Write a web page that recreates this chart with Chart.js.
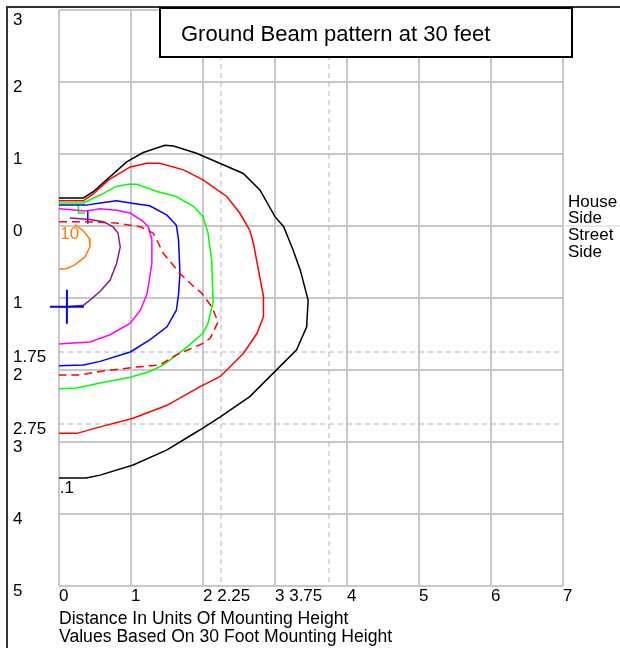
<!DOCTYPE html>
<html lang="en">
<head>
<meta charset="UTF-8">
<title>Ground Beam pattern at 30 feet</title>
<style>
  body { margin: 0; background: #fff; }
  #wrap { width: 620px; height: 648px; }
</style>
</head>
<body>
<div id="wrap"><canvas id="beam" width="620" height="648"></canvas></div>
<script src="https://cdn.jsdelivr.net/npm/chart.js"></script>
<script>
// axis ticks, street side is below 0 but printed without sign
const xTicks = [0, 1, 2, 3, 4, 5, 6, 7];
const xTickLabels = ['0', '1', '2 2.25', '3 3.75', '4', '5', '6', '7'];
const yTicks = [3, 2, 1, 0, -1, -1.75, -2, -2.75, -3, -4, -5];
const yTickLabels = ['3', '2', '1', '0', '1', '1.75', '2', '2.75', '3', '4', '5'];
const refX = [2.25, 3.75];
const refY = [-1.75, -2.75];

// iso lines, [x, y] in mounting heights
const isoBlack = [[0,0.39],[0.34,0.39],[0.48,0.48],[0.66,0.64],[0.94,0.89],[1.17,1.02],[1.47,1.12],[1.59,1.11],[1.91,1.01],[2.28,0.85],[2.56,0.73],[2.79,0.5],[3.0,0.13],[3.12,-0.01],[3.25,-0.33],[3.35,-0.61],[3.46,-1.03],[3.44,-1.4],[3.3,-1.72],[3.07,-1.95],[2.65,-2.37],[2.24,-2.65],[1.96,-2.83],[1.5,-3.11],[1.03,-3.32],[0.57,-3.46],[0.38,-3.5],[0,-3.5]];
const isoRed = [[0,0.35],[0.34,0.35],[0.48,0.45],[0.69,0.64],[0.99,0.82],[1.22,0.87],[1.4,0.87],[1.73,0.78],[2.0,0.64],[2.33,0.41],[2.51,0.18],[2.65,-0.06],[2.7,-0.24],[2.77,-0.61],[2.84,-0.98],[2.84,-1.26],[2.75,-1.49],[2.56,-1.77],[2.24,-2.09],[1.96,-2.23],[1.5,-2.49],[1.03,-2.67],[0.57,-2.79],[0.25,-2.88],[0,-2.88]];
const isoGreen = [[0,0.32],[0.34,0.32],[0.38,0.34],[0.57,0.43],[0.8,0.55],[0.96,0.58],[1.08,0.58],[1.36,0.48],[1.63,0.41],[1.87,0.27],[2.0,0.13],[2.07,-0.1],[2.12,-0.47],[2.14,-1.05],[2.07,-1.35],[2.0,-1.49],[1.73,-1.72],[1.45,-1.93],[1.26,-2.02],[0.99,-2.1],[0.57,-2.18],[0.25,-2.25],[0,-2.26]];
const isoBlue = [[0,0.29],[0.38,0.29],[0.57,0.32],[0.8,0.35],[0.99,0.32],[1.26,0.28],[1.5,0.15],[1.63,0.01],[1.66,-0.19],[1.68,-0.66],[1.66,-0.95],[1.63,-1.17],[1.5,-1.4],[1.26,-1.58],[0.99,-1.75],[0.57,-1.88],[0.34,-1.93],[0,-1.94]];
const isoMagenta = [[0,0.24],[0.38,0.21],[0.57,0.24],[0.8,0.22],[0.99,0.18],[1.17,0.06],[1.24,-0.01],[1.29,-0.19],[1.29,-0.52],[1.24,-0.84],[1.22,-0.95],[1.13,-1.17],[0.99,-1.35],[0.71,-1.51],[0.43,-1.61],[0.15,-1.63],[0,-1.64]];
const isoDashed = [[0,0.06],[0.34,0.06],[0.8,0.04],[1.13,-0.01],[1.31,-0.1],[1.45,-0.38],[1.68,-0.66],[1.87,-0.84],[1.98,-0.93],[2.12,-1.12],[2.21,-1.33],[2.1,-1.56],[2.0,-1.63],[1.63,-1.79],[1.4,-1.93],[1.08,-1.96],[0.57,-2.02],[0.29,-2.07],[0,-2.07]];
const isoPurple = [[0.15,0.11],[0.43,0.09],[0.62,0.06],[0.75,-0.01],[0.82,-0.1],[0.85,-0.29],[0.8,-0.52],[0.71,-0.75],[0.57,-0.91],[0.43,-1.03],[0.34,-1.1],[0.11,-1.12],[0,-1.12]];
const isoOrange = [[0.22,0.02],[0.33,-0.06],[0.42,-0.17],[0.43,-0.29],[0.36,-0.43],[0.22,-0.54],[0.11,-0.59],[0,-0.6]];
// small fixture outline bits near the pole
const tickGreen = [[0.27,0.29],[0.27,0.18],[0.36,0.18]];
const tickBlue = [[0.4,0.22],[0.4,0.03]];
const fixture = [0.11, -1.12];

const toPts = arr => arr.map(([x, y]) => ({ x, y }));

function iso(data, color, dash) {
  return {
    data: toPts(data),
    showLine: true,
    borderColor: color,
    borderWidth: 1.5,
    borderDash: dash || [],
    pointRadius: 0,
    tension: 0
  };
}

const refSets = [
  ...refX.map(v => ({ data: [{ x: v, y: 3 }, { x: v, y: -5 }] })),
  ...refY.map(v => ({ data: [{ x: 0, y: v }, { x: 7, y: v }] }))
].map(d => ({ ...d, showLine: true, borderColor: '#b4b4b4', borderWidth: 1, borderDash: [5, 4], pointRadius: 0 }));

const font = 'Liberation Sans, Arial, sans-serif';

const decorations = {
  id: 'decorations',
  afterDatasetsDraw(chart) {
    const { ctx, scales: { x, y } } = chart;
    ctx.save();
    ctx.font = '17px ' + font;
    ctx.textAlign = 'center';
    ctx.textBaseline = 'middle';
    ctx.fillStyle = '#000';
    ctx.fillText('.1', x.getPixelForValue(0.11), y.getPixelForValue(-3.64));
    ctx.fillStyle = '#ff8000';
    ctx.fillText('10', x.getPixelForValue(0.15), y.getPixelForValue(-0.11));
    ctx.restore();
  },
  afterDraw(chart) {
    const { ctx, chartArea: a, scales: { y } } = chart;
    ctx.save();
    // window frame
    ctx.strokeStyle = '#333';
    ctx.lineWidth = 2;
    ctx.beginPath();
    ctx.moveTo(7, 648);
    ctx.lineTo(7, 7);
    ctx.lineTo(620, 7);
    ctx.stroke();
    // top tick label sits lower so it clears the frame
    ctx.fillStyle = '#000';
    ctx.font = '17px ' + font;
    ctx.textBaseline = 'middle';
    ctx.fillText(yTickLabels[0], 13, y.getPixelForValue(yTicks[0]) + 10);
    // zero line runs past the grid under the side labels
    ctx.strokeStyle = '#d0d0d0';
    ctx.lineWidth = 1;
    ctx.beginPath();
    ctx.moveTo(a.right, y.getPixelForValue(0));
    ctx.lineTo(620, y.getPixelForValue(0));
    ctx.stroke();
    // title box
    ctx.fillStyle = '#fff';
    ctx.fillRect(160, 8, 412, 49);
    ctx.strokeStyle = '#000';
    ctx.lineWidth = 2;
    ctx.strokeRect(160, 8, 412, 49);
    ctx.fillStyle = '#000';
    ctx.font = '22px ' + font;
    ctx.fillText('Ground Beam pattern at 30 feet', 181, 35);
    // side labels
    ctx.font = '17px ' + font;
    ['House', 'Side', 'Street', 'Side'].forEach((t, i) => {
      ctx.fillText(t, a.right + 5, 202 + i * 16.8);
    });
    ctx.restore();
  }
};

new Chart(document.getElementById('beam'), {
  type: 'scatter',
  data: {
    datasets: [
      {
        data: [{ x: fixture[0], y: fixture[1] }],
        pointStyle: 'cross',
        pointRadius: 17,
        pointBorderWidth: 2,
        borderColor: '#0000ff',
        clip: false
      },
      iso(isoOrange, '#ff8000'),
      iso(isoPurple, '#8b1a8b'),
      iso(isoDashed, '#ff0000', [8, 5]),
      iso(isoMagenta, '#ff00ff'),
      iso(tickBlue, '#0000ff'),
      iso(isoBlue, '#0000ff'),
      iso(tickGreen, '#00ff00'),
      iso(isoGreen, '#00ff00'),
      iso(isoRed, '#ff0000'),
      iso(isoBlack, '#000000'),
      ...refSets
    ]
  },
  options: {
    responsive: false,
    animation: false,
    events: [],
    layout: { autoPadding: false, padding: { left: 13, top: 10, right: 57, bottom: 0 } },
    plugins: { legend: { display: false }, tooltip: { enabled: false } },
    scales: {
      x: {
        type: 'linear',
        min: 0,
        max: 7,
        afterBuildTicks: s => { s.ticks = xTicks.map(v => ({ value: v })); },
        afterFit: s => { s.height = 62; },
        border: { display: false },
        grid: { color: '#c8c8c8', lineWidth: 2, drawTicks: false },
        ticks: {
          autoSkip: false,
          maxRotation: 0,
          align: 'start',
          padding: 0,
          color: '#000',
          font: { family: font, size: 17 },
          callback: (v, i) => xTickLabels[i]
        },
        title: {
          display: true,
          align: 'start',
          text: ['Distance In Units Of Mounting Height', 'Values Based On 30 Foot Mounting Height'],
          color: '#000',
          font: { family: font, size: 17.6, lineHeight: '18px' },
          padding: { top: 0, bottom: 2 }
        }
      },
      y: {
        type: 'linear',
        min: -5,
        max: 3,
        afterBuildTicks: s => { s.ticks = yTicks.map(v => ({ value: v })); },
        afterFit: s => { s.width = 46; s.paddingTop = 0; s.paddingBottom = 0; },
        border: { display: false },
        grid: {
          color: c => (c.tick && Number.isInteger(c.tick.value)) ? '#c8c8c8' : 'rgba(0,0,0,0)',
          lineWidth: 2,
          drawTicks: false
        },
        ticks: {
          autoSkip: false,
          crossAlign: 'far',
          labelOffset: 5,
          padding: 0,
          color: '#000',
          font: { family: font, size: 17, lineHeight: 1 },
          callback: (v, i) => (i === 0 ? '' : yTickLabels[i])
        }
      }
    }
  },
  plugins: [decorations]
});
</script>
</body>
</html>
